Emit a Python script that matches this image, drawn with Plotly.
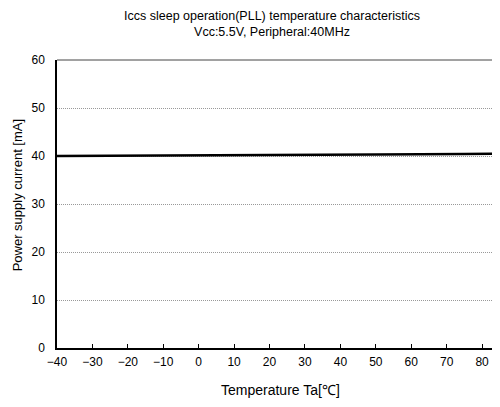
import plotly.graph_objects as go

temps = [-40, -20, 0, 25, 50, 75, 85]
current = [40.0, 40.1, 40.2, 40.2, 40.3, 40.4, 40.5]
x_ticks = [-40, -30, -20, -10, 0, 10, 20, 30, 40, 50, 60, 70, 80]
y_ticks = [0, 10, 20, 30, 40, 50, 60]

FONT = "Liberation Sans"

fig = go.Figure()
fig.add_trace(go.Scatter(x=temps, y=current, mode="lines",
                         line=dict(color="black", width=2.5), showlegend=False))

fig.update_layout(
    width=484, height=391,
    margin=dict(l=49, r=0, t=52, b=51),
    plot_bgcolor="white", paper_bgcolor="white",
    font=dict(family=FONT, size=12, color="black"),
    xaxis=dict(range=[-40, 82.8], tickvals=x_ticks, showgrid=False, zeroline=False,
               showline=True, linecolor="black", linewidth=1.5,
               ticks="inside", ticklen=4, tickcolor="black",
               tickfont=dict(size=12), ticklabeloverflow="allow",
               ticklabelstandoff=2),
    yaxis=dict(range=[0, 60], tickvals=y_ticks, showgrid=True, gridcolor="#999",
               griddash="1px,1px", gridwidth=1, zeroline=False,
               showline=True, linecolor="black", linewidth=1.5, ticks="",
               tickfont=dict(size=12), ticklabelstandoff=8),
    shapes=[dict(type="line", xref="paper", yref="paper", x0=0, x1=1, y0=1, y1=1,
                 line=dict(color="#444", width=1))],
    annotations=[
        dict(text="Iccs sleep operation(PLL) temperature characteristics<br>Vcc:5.5V, Peripheral:40MHz",
             xref="paper", yref="paper", x=(272 - 57) / 435, y=1, yshift=19,
             showarrow=False, font=dict(size=12.5), align="center", yanchor="bottom"),
        dict(text="Temperature Ta[℃]", xref="paper", yref="paper",
             x=(280 - 57) / 435, y=0, yshift=-42, yanchor="middle",
             showarrow=False, font=dict(size=14)),
        dict(text="Power supply current [mA]", xref="paper", yref="paper",
             x=0, xshift=-40, y=0.53, textangle=-90, xanchor="center",
             showarrow=False, font=dict(size=13)),
    ],
)

fig.write_html("out.html")
